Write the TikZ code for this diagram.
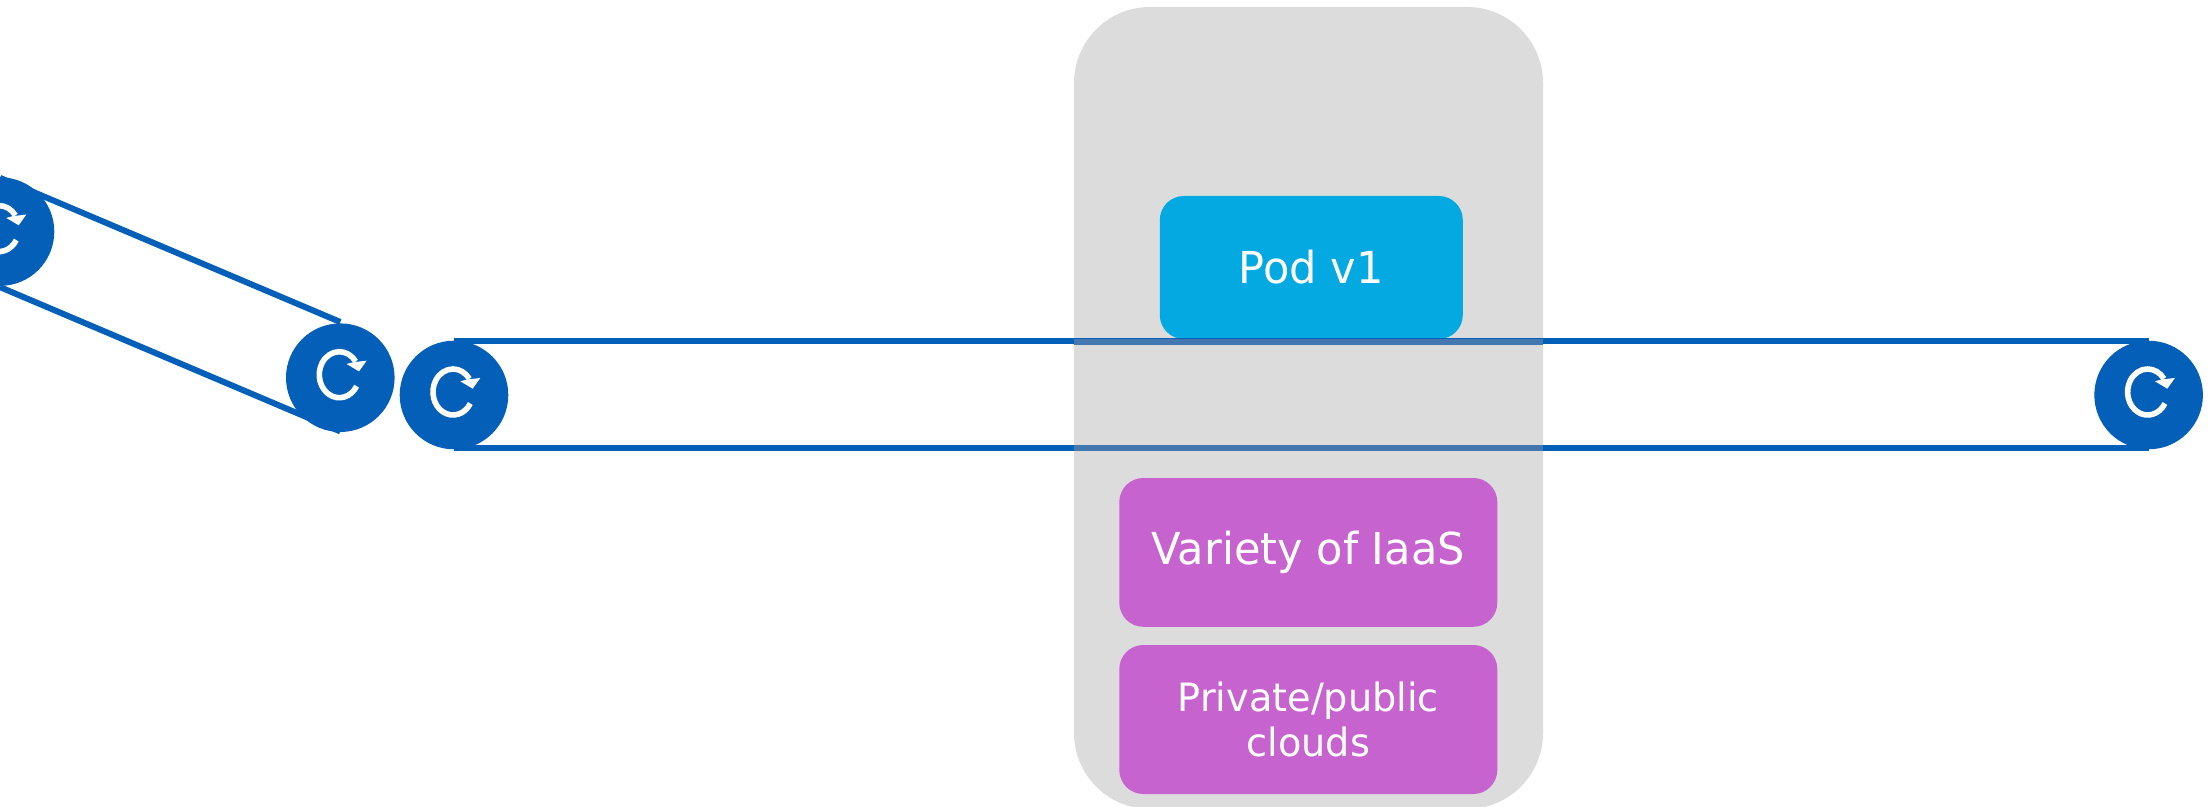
\documentclass[tikz,border=0pt]{standalone}
\usepackage{fontspec}
\setmainfont{DejaVu Sans}[FakeStretch=0.98]
\definecolor{beltblue}{HTML}{045FB8}
\definecolor{bandblue}{HTML}{4277B0}
\definecolor{panelgray}{HTML}{DCDCDC}
\definecolor{podblue}{HTML}{03A9E0}
\definecolor{iaaspurple}{HTML}{C763CE}
\tikzset{
  x=0.5pt,y=0.5pt,
  pulley/.style={circle,fill=beltblue,draw=none,inner sep=0pt,minimum size=54.3pt},
  belt/.style={draw=beltblue,line width=3pt},
  box/.style={rectangle,draw=none,rounded corners=12pt,text=white,align=center,inner sep=0pt,
    font=\fontsize{22}{22.5}\selectfont},
  refreshicon/.pic={
    \draw[white,line width=2.8pt] (-1,3) ++(-30:20 and 23) arc[start angle=-30,end angle=-325,x radius=20,y radius=23];
    \fill[white] (26.3,17) -- (18.7,6.3) -- (6.3,13.7) -- (13,15.5) -- cycle;
  }
}
\begin{document}
\begin{tikzpicture}
\clip (0,0) rectangle (2211,-807);
\path[use as bounding box] (0,0) rectangle (2211,-807);
\fill[white] (0,0) rectangle (2211,-807);
% panel
\fill[panelgray,rounded corners=38pt] (1074,-7) rectangle (1543,-809);
% boxes
\node[box,fill=podblue,minimum width=151.5pt,minimum height=71.5pt] (pod) at (1311.3,-267.5) {Pod v1};
\node[box,fill=iaaspurple,minimum width=189pt,minimum height=74.4pt] (iaas) at (1308.3,-552.4) {Variety of IaaS};
\node[box,fill=iaaspurple,minimum width=189pt,minimum height=74.5pt,font=\fontsize{19.5}{22.5}\selectfont] (clouds) at (1308.3,-719.5) {Private/public\\clouds};
% pulleys
\node[pulley] (p0) at (0,-231.6) {};
\node[pulley] (p1) at (340.3,-377.7) {};
\node[pulley] (p2) at (454,-395) {};
\node[pulley] (p3) at (2148.6,-395) {};
% belts
\draw[belt] ([yshift=-0.5pt]p0.north) -- ([yshift=0.5pt]p1.north);
\draw[belt] ([yshift=-0.4pt]p0.south) -- ([yshift=0.5pt]p1.south);
\draw[belt] ([yshift=-0.6pt]p2.north) -- ([yshift=-0.6pt]p3.north);
\draw[belt] ([yshift=0.6pt]p2.south) -- ([yshift=0.6pt]p3.south);
% belts seen through the panel
\fill[bandblue] (1074,-339) rectangle (1543,-345);
\fill[bandblue] (1074,-445) rectangle (1543,-451);
% icons
\pic at (p0.center) {refreshicon};
\pic at (p1.center) {refreshicon};
\pic at (p2.center) {refreshicon};
\pic at (p3.center) {refreshicon};
\end{tikzpicture}
\end{document}
